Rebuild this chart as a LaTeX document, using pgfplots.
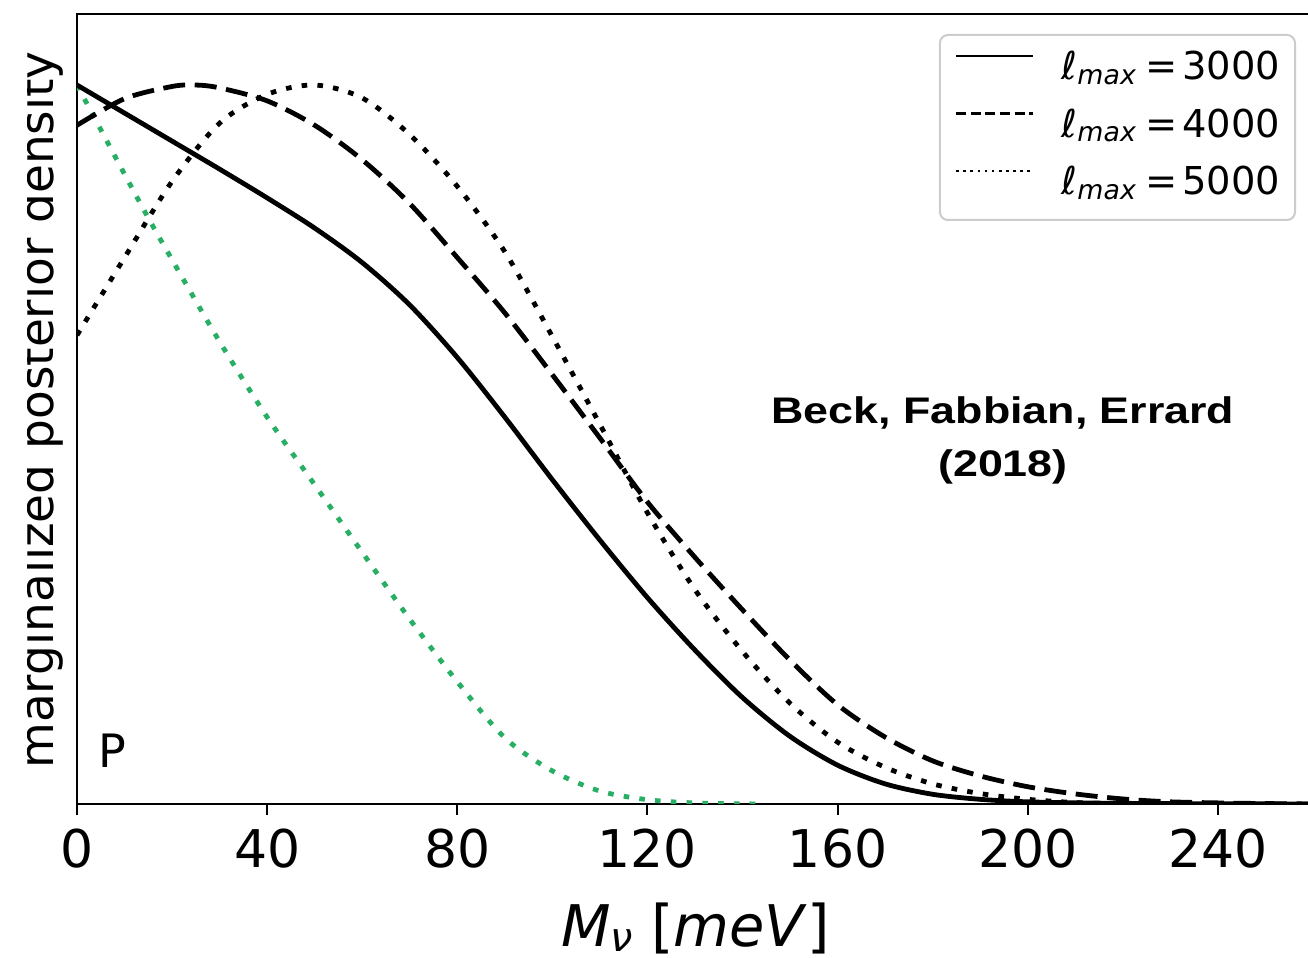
\documentclass[border=0pt]{standalone}
\usepackage{fontspec}
\setmainfont{DejaVu Sans}
\newfontfamily\helv{Liberation Sans}
\usepackage{graphicx}
\usepackage{pgfplots}
\usepackage{pgfplotstable}
\pgfplotsset{compat=1.18}
\definecolor{mygreen}{RGB}{40,175,100}

\pgfplotstableread{
x y
0 1.000
10 0.961
20 0.922
30 0.883
40 0.843
50 0.801
60 0.753
70 0.694
80 0.621
90 0.538
100 0.451
110 0.367
120 0.287
130 0.214
140 0.148
150 0.094
160 0.054
170 0.028
180 0.0135
190 0.0065
200 0.003
215 0.0012
235 0.0004
260 0.0
}\tabA

\pgfplotstableread{
x y
0 0.944
10 0.981
20 0.998
25 1.000
30 0.996
40 0.978
50 0.944
60 0.896
70 0.835
80 0.760
90 0.683
100 0.597
110 0.509
120 0.420
130 0.343
140 0.270
150 0.200
160 0.138
170 0.093
180 0.060
190 0.039
200 0.024
210 0.014
220 0.007
230 0.003
245 0.001
260 0.0
}\tabB

\pgfplotstableread{
x y
0 0.652
10 0.760
20 0.866
30 0.947
40 0.987
50 1.000
60 0.982
70 0.931
80 0.859
90 0.768
100 0.650
110 0.528
120 0.405
130 0.298
140 0.212
150 0.140
160 0.086
170 0.051
180 0.028
190 0.0145
200 0.0065
210 0.002
220 0.0
}\tabC

\pgfplotstableread{
x y
0 1.000
5 0.938
10 0.876
15 0.815
20 0.757
30 0.643
40 0.538
50 0.444
60 0.350
70 0.257
80 0.170
90 0.092
100 0.046
110 0.018
120 0.006
130 0.0015
143.7 0.0
}\tabG

\newcommand\lm[1]{ℓ\raisebox{-2.2pt}{\fontsize{13.4pt}{14pt}\selectfont\textit{max}}\hspace{4.5pt}=\hspace{2.5pt}#1}

\begin{document}
\begin{tikzpicture}
\begin{axis}[
  at={(0,0)}, anchor=south west,
  scale only axis, width=618pt, height=395pt,
  xmin=0, xmax=260, ymin=0, ymax=1.0988,
  xtick={0,40,...,240}, ytick=\empty,
  tick align=outside, major tick length=5.5pt,
  xtick pos=left,
  axis line style={line width=1pt},
  every tick/.style={black, line width=1pt},
  xticklabel style={font=\fontsize{26pt}{30pt}\selectfont, inner sep=0pt, yshift=-7pt},
  /pgf/number format/assume math mode=true,
  legend style={
    at={(axis description cs:1,1)}, anchor=north east, xshift=-8.5pt, yshift=-10pt,
    draw=black!20, line width=1pt, rounded corners=4pt, fill=white,
    inner xsep=7.5pt, inner ysep=8.5pt, row sep=10.75pt, column sep=0pt,
    font=\fontsize{19.2pt}{23pt}\selectfont,
    nodes={inner sep=0pt, text height=14pt, text depth=4pt},
  },
  legend cell align=left,
  legend image code/.code={\draw[#1] (0pt,7pt) -- (38.5pt,7pt); \path (52pt,0pt);},
]
\addlegendimage{black, line width=1.35pt}
\addlegendentry{\lm{3000}}
\addlegendimage{black, line width=1.35pt, dash pattern=on 5pt off 2.3pt}
\addlegendentry{\lm{4000}}
\addlegendimage{black, line width=1.35pt, dash pattern=on 1.35pt off 2.2pt}
\addlegendentry{\lm{5000}}

\addplot[forget plot, mygreen, line width=2.4pt, dash pattern=on 2.8pt off 5.1pt, smooth] table[x=x,y=y] {\tabG};
\addplot[forget plot, black, line width=2.4pt, smooth] table[x=x,y=y] {\tabA};
\addplot[forget plot, black, line width=2.4pt, dash pattern=on 11pt off 4.8pt, smooth] table[x=x,y=y] {\tabB};
\addplot[forget plot, black, line width=2.4pt, dash pattern=on 2.8pt off 5.1pt, smooth] table[x=x,y=y] {\tabC};
\end{axis}
\node[rotate=90, anchor=base west, inner sep=0pt, font=\fontsize{23.5pt}{28pt}\selectfont] at (-11.85pt,17.5pt) {marginalized posterior density};
\fill[white] (-40pt,-80pt) rectangle (-25pt,405pt);
\node[anchor=base west, inner sep=0pt, font=\fontsize{23pt}{28pt}\selectfont] at (10.8pt,18pt) {P};
\node[anchor=base, inner sep=0pt, font=\fontsize{28.7pt}{34pt}\selectfont] at (309.25pt,-71.5pt) {\textit{M}\raisebox{-2.5pt}{\fontsize{20pt}{24pt}\selectfont\textit{ν}} [\textit{meV}]};
\node[anchor=north, inner sep=0pt, align=center, font=\helv\bfseries\fontsize{18.5pt}{26.7pt}\selectfont] at (463pt,204pt) {\scalebox{1.21}[1]{Beck, Fabbian, Errard}\\\scalebox{1.21}[1]{(2018)}};
\pgfresetboundingbox
\useasboundingbox (-38.5pt,-77pt) rectangle (615.5pt,402pt);
\end{tikzpicture}
\end{document}
